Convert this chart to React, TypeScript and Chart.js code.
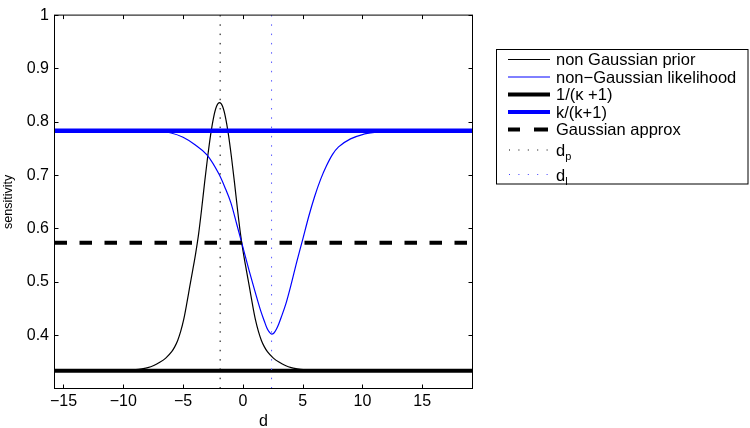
import React, { useEffect, useRef } from "react";
import { Chart, registerables } from "chart.js";
Chart.register(...registerables);

// ---- data ----
const xTicks = [-15, -10, -5, 0, 5, 10, 15];
const yTicks = [0.4, 0.5, 0.6, 0.7, 0.8, 0.9, 1];
const xMin = -15.75;
const xMax = 19.2;
const yMin = 0.3;
const yMax = 1;

// non Gaussian prior
const priorD = [
  -15.75, -11.95, -10.95, -9.95, -8.95, -8.45, -7.95, -7.45, -6.95, -6.45, -5.95, -5.7, -5.45, -5.2,
  -4.95, -4.7, -4.45, -4.2, -3.95, -3.7, -3.45, -3.2, -2.95, -2.7, -2.45, -2.2, -1.95, -1.7, -1.45,
  -1.2, -0.95, -0.7, -0.45, -0.2, 0.05, 0.3, 0.55, 0.8, 1.05, 1.3, 1.55, 1.8, 2.05, 2.55, 3.05, 3.55,
  4.05, 4.55, 5.05, 6.05, 7.05, 8.05, 19.2,
];
const priorV = [
  0.3333, 0.3335, 0.3337, 0.3343, 0.3355, 0.337, 0.339, 0.343, 0.349, 0.357, 0.369, 0.378, 0.39, 0.407,
  0.429, 0.458, 0.49, 0.521, 0.553, 0.59, 0.636, 0.686, 0.733, 0.775, 0.808, 0.829, 0.836, 0.829, 0.808,
  0.775, 0.733, 0.686, 0.636, 0.59, 0.553, 0.521, 0.49, 0.458, 0.429, 0.407, 0.39, 0.378, 0.369, 0.357,
  0.349, 0.343, 0.339, 0.337, 0.3355, 0.3343, 0.3337, 0.3335, 0.3333,
];

// non-Gaussian likelihood
const likeD = [
  -15.75, -9, -8, -7, -6, -5, -4, -3, -2, -1.5, -1, -0.5, 0, 0.5, 1, 1.5, 1.8, 2, 2.2, 2.4, 2.6, 2.8,
  3, 3.2, 3.6, 4, 4.5, 5, 5.5, 6, 6.5, 7, 7.5, 8, 9, 10, 11, 12, 13, 19.2,
];
const likeV = [
  0.783, 0.783, 0.7827, 0.782, 0.779, 0.771, 0.757, 0.738, 0.702, 0.677, 0.648, 0.607, 0.565, 0.523,
  0.483, 0.445, 0.426, 0.414, 0.406, 0.402, 0.404, 0.411, 0.421, 0.433, 0.459, 0.492, 0.537, 0.579,
  0.622, 0.66, 0.692, 0.718, 0.739, 0.753, 0.768, 0.776, 0.78, 0.782, 0.783, 0.783,
];

const invKappa = 0.3333; // 1/(κ+1)
const kRatio = 0.783; // k/(k+1)
const gaussApprox = 0.573;
const dP = -1.9;
const dL = 2.4;

const FONT = '"Liberation Sans", Arial, Helvetica, sans-serif';

const pts = (xs: number[], ys: number[]) => xs.map((x, i) => ({ x, y: ys[i] }));

const framePlugin = {
  id: "frame",
  afterDraw(chart: any) {
    const { ctx, chartArea, scales } = chart;
    const { left, right, top, bottom } = chartArea;
    const x = scales.x;
    const y = scales.y;
    ctx.save();
    ctx.strokeStyle = "#000";
    ctx.lineWidth = 1;
    ctx.strokeRect(left, top, right - left, bottom - top);
    ctx.beginPath();
    const tl = 4;
    xTicks.forEach((v) => {
      const px = Math.round(x.getPixelForValue(v)) + 0.5;
      ctx.moveTo(px, bottom);
      ctx.lineTo(px, bottom - tl);
      ctx.moveTo(px, top);
      ctx.lineTo(px, top + tl);
    });
    yTicks.forEach((v) => {
      const py = Math.round(y.getPixelForValue(v)) + 0.5;
      ctx.moveTo(left, py);
      ctx.lineTo(left + tl, py);
      ctx.moveTo(right, py);
      ctx.lineTo(right - tl, py);
    });
    ctx.stroke();
    ctx.restore();
  },
};

function Legend() {
  const sx1 = 508;
  const sx2 = 550;
  const tx = 556;
  const fs = 16.5;
  const dots = (y: number, color: string) =>
    [0, 1, 2, 3, 4].map((i) => (
      <rect key={i} x={sx1 + 1 + i * 9.4} y={y - 0.5} width={1} height={1} fill={color} />
    ));
  return (
    <svg
      width={750}
      height={428}
      style={{ position: "absolute", left: 0, top: 0, pointerEvents: "none" }}
    >
      <rect x={496.5} y={49.5} width={251.5} height={134.5} fill="#fff" stroke="#000" strokeWidth={1} />
      <g fontFamily={FONT} fontSize={fs} fill="#000">
        <line x1={sx1} x2={sx2} y1={59.5} y2={59.5} stroke="#000" strokeWidth={1} />
        <text x={tx} y={65}>non Gaussian prior</text>
        <line x1={sx1} x2={sx2} y1={77} y2={77} stroke="#0000ff" strokeWidth={1} />
        <text x={tx} y={82.5}>non−Gaussian likelihood</text>
        <line x1={sx1} x2={sx2} y1={94.5} y2={94.5} stroke="#000" strokeWidth={4} />
        <text x={tx} y={100}>1/(κ +1)</text>
        <line x1={sx1} x2={sx2} y1={112} y2={112} stroke="#0000ff" strokeWidth={4} />
        <text x={tx} y={117.7}>k/(k+1)</text>
        <line x1={sx1} x2={sx1 + 12} y1={129.5} y2={129.5} stroke="#000" strokeWidth={4} />
        <line x1={sx1 + 26} x2={sx1 + 40} y1={129.5} y2={129.5} stroke="#000" strokeWidth={4} />
        <text x={tx} y={135}>Gaussian approx</text>
        {dots(150, "#000")}
        <text x={tx} y={156}>
          d<tspan fontSize={11} dy={4}>p</tspan>
        </text>
        {dots(174.5, "#4040ff")}
        <text x={tx} y={180.5}>
          d<tspan fontSize={11} dy={4}>l</tspan>
        </text>
      </g>
    </svg>
  );
}

export default function App() {
  const ref = useRef<HTMLCanvasElement | null>(null);
  useEffect(() => {
    if (!ref.current) return;
    const chart = new Chart(ref.current, {
      type: "scatter",
      data: {
        datasets: [
          {
            label: "non Gaussian prior",
            data: pts(priorD, priorV),
            showLine: true,
            borderColor: "#000",
            borderWidth: 1.2,
            pointRadius: 0,
            cubicInterpolationMode: "monotone",
            order: 7,
          },
          {
            label: "non−Gaussian likelihood",
            data: pts(likeD, likeV),
            showLine: true,
            borderColor: "#0000ff",
            borderWidth: 1.2,
            pointRadius: 0,
            cubicInterpolationMode: "monotone",
            order: 6,
          },
          {
            label: "1/(κ +1)",
            data: pts([xMin, xMax], [invKappa, invKappa]),
            showLine: true,
            borderColor: "#000",
            borderWidth: 4,
            pointRadius: 0,
            order: 5,
          },
          {
            label: "k/(k+1)",
            data: pts([xMin, xMax], [kRatio, kRatio]),
            showLine: true,
            borderColor: "#0000ff",
            borderWidth: 4.5,
            pointRadius: 0,
            order: 4,
          },
          {
            label: "Gaussian approx",
            data: pts([xMin, xMax], [gaussApprox, gaussApprox]),
            showLine: true,
            borderColor: "#000",
            borderWidth: 4,
            borderDash: [12.5, 12.5],
            pointRadius: 0,
            order: 3,
          },
          {
            label: "dp",
            data: pts([dP, dP], [yMin, yMax]),
            showLine: true,
            borderColor: "#000",
            borderWidth: 1,
            borderDash: [1.5, 7.8],
            pointRadius: 0,
            order: 2,
          },
          {
            label: "dl",
            data: pts([dL, dL], [yMin, yMax]),
            showLine: true,
            borderColor: "#5a5aff",
            borderWidth: 1,
            borderDash: [1.5, 7.8],
            pointRadius: 0,
            order: 1,
          },
        ],
      },
      options: {
        animation: false,
        responsive: false,
        devicePixelRatio: 1,
        layout: { padding: { left: 0, right: 277.5, top: 8.5, bottom: 0 } },
        plugins: { legend: { display: false }, tooltip: { enabled: false } },
        scales: {
          x: {
            type: "linear",
            min: xMin,
            max: xMax,
            grid: { display: false, drawTicks: false },
            border: { display: false },
            afterBuildTicks: (s: any) => {
              s.ticks = xTicks.map((v) => ({ value: v }));
            },
            afterFit: (s: any) => {
              s.height = 39.5;
            },
            ticks: {
              autoSkip: false,
              maxRotation: 0,
              padding: 3,
              color: "#000",
              font: { family: FONT, size: 16 },
              callback: (v: any) => (v < 0 ? "−" + Math.abs(v) : String(v)),
            },
            title: {
              display: true,
              text: "d",
              color: "#000",
              font: { family: FONT, size: 16, lineHeight: 1 },
              padding: { top: 0, bottom: -2 },
            },
          },
          y: {
            type: "linear",
            min: yMin,
            max: yMax,
            grid: { display: false, drawTicks: false },
            border: { display: false },
            afterBuildTicks: (s: any) => {
              s.ticks = yTicks.map((v) => ({ value: v }));
            },
            afterFit: (s: any) => {
              s.width = 54.5;
            },
            ticks: {
              autoSkip: false,
              padding: 5.5,
              color: "#000",
              font: { family: FONT, size: 16 },
              callback: (v: any) => (v === 1 ? "1" : Number(v).toFixed(1)),
            },
            title: {
              display: true,
              text: "sensitivity",
              color: "#000",
              font: { family: FONT, size: 12.5, lineHeight: 1 },
              padding: { top: 2.5, bottom: 0 },
            },
          },
        },
      },
      plugins: [framePlugin],
    } as any);
    return () => chart.destroy();
  }, []);

  return (
    <div style={{ position: "absolute", left: 0, top: 0, width: 750, height: 428, background: "#fff" }}>
      <canvas ref={ref} width={750} height={428} style={{ width: 750, height: 428, display: "block" }} />
      <Legend />
    </div>
  );
}
